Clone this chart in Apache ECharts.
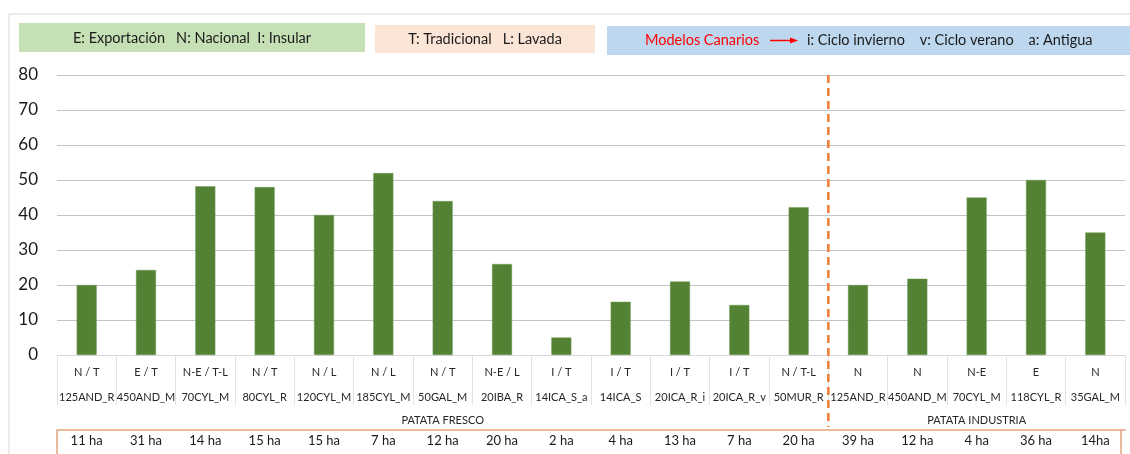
<!DOCTYPE html>
<html>
<head>
<meta charset="utf-8">
<script src="https://cdn.jsdelivr.net/npm/echarts@6/dist/echarts.min.js"></script>
<style>
html,body{margin:0;padding:0;background:#fff;}
#chart{width:1130px;height:454px;}
</style>
</head>
<body>
<div id="chart"></div>
<script>
// ---- data ----
var codes = ['N / T','E / T','N-E / T-L','N / T','N / L','N / L','N / T','N-E / L','I / T','I / T','I / T','I / T','N / T-L','N','N','N-E','E','N'];
var models = ['125AND_R','450AND_M','70CYL_M','80CYL_R','120CYL_M','185CYL_M','50GAL_M','20IBA_R','14ICA_S_a','14ICA_S','20ICA_R_i','20ICA_R_v','50MUR_R','125AND_R','450AND_M','70CYL_M','118CYL_R','35GAL_M'];
var hectares = ['11 ha','31 ha','14 ha','15 ha','15 ha','7 ha','12 ha','20 ha','2 ha','4 ha','13 ha','7 ha','20 ha','39 ha','12 ha','4 ha','36 ha','14ha'];
var values = [20, 24.3, 48.2, 48, 40, 52, 44, 26, 5, 15.2, 21, 14.3, 42.2, 20, 21.8, 45, 50, 35];
var groupNames = ['PATATA FRESCO','PATATA INDUSTRIA'];
var groupSizes = [13, 5];
var yTicks = {min: 0, max: 80, interval: 10};

// group label positions (middle category of each group)
var groupLabelAt = {};
(function(){
  var start = 0;
  for (var g = 0; g < groupNames.length; g++) {
    groupLabelAt[start + Math.floor(groupSizes[g] / 2)] = groupNames[g];
    start += groupSizes[g];
  }
})();
var catIdx = models.map(function(m, i){ return String(i); });

var FONT = 'Lato, "Open Sans", sans-serif';
var chart = echarts.init(document.getElementById('chart'));

var option = {
  animation: false,
  textStyle: {fontFamily: FONT},
  grid: {left: 57, right: 5, top: 75, bottom: 99, containLabel: false},
  xAxis: [
    {
      type: 'category', data: catIdx, position: 'bottom',
      axisLine: {show: true, lineStyle: {color: '#d9d9d9', width: 1}},
      axisTick: {show: true, interval: 0, length: 50, lineStyle: {color: '#e3e3e3'}},
      axisLabel: {
        interval: 0, margin: 5, fontSize: 11, lineHeight: 25, color: '#262626', fontFamily: FONT,
        formatter: function(v, i){ return codes[i] + '\n' + models[i]; }
      },
      splitLine: {show: false}
    },
    {
      type: 'category', data: catIdx, position: 'bottom', gridIndex: 0,
      axisLine: {show: false}, axisTick: {show: false},
      axisLabel: {
        interval: 0, margin: 60, fontSize: 11, color: '#262626', fontFamily: FONT,
        formatter: function(v, i){ return groupLabelAt[i] || ''; }
      }
    },
    {
      type: 'category', data: catIdx, position: 'bottom', offset: 75,
      axisLine: {show: true, lineStyle: {color: '#E2A47C', width: 1.5}},
      axisTick: {show: false},
      axisLabel: {
        interval: 0, margin: 4, fontSize: 13, color: '#1a1a1a', fontFamily: FONT,
        formatter: function(v, i){ return hectares[i]; }
      }
    }
  ],
  yAxis: {
    type: 'value', min: yTicks.min, max: yTicks.max, interval: yTicks.interval,
    axisLine: {show: false}, axisTick: {show: false},
    axisLabel: {fontSize: 17, color: '#1a1a1a', margin: 19, fontFamily: FONT},
    splitLine: {lineStyle: {color: '#c4c4c4', width: 1}}
  },
  series: [{
    type: 'bar', data: values, barWidth: 20, xAxisIndex: 0,
    itemStyle: {color: '#548235', borderColor: '#6f9a55', borderWidth: 0.5}
  }]
};
chart.setOption(option);

// ---- decorations computed from the chart's own scales ----
var p0 = chart.convertToPixel({xAxisIndex: 0}, '0');
var p1 = chart.convertToPixel({xAxisIndex: 0}, '1');
var band = p1 - p0;
var leftX = p0 - band / 2;
var lastX = chart.convertToPixel({xAxisIndex: 0}, String(models.length - 1));
var rightX = lastX + band / 2;
var splitIdx = groupSizes[0];
var divX = (chart.convertToPixel({xAxisIndex: 0}, String(splitIdx - 1)) + chart.convertToPixel({xAxisIndex: 0}, String(splitIdx))) / 2;
var yTop = chart.convertToPixel({yAxisIndex: 0}, yTicks.max);
var yZero = chart.convertToPixel({yAxisIndex: 0}, 0);
var boxTop = yZero + 75;

function legendBox(x, y, w, h, fill, children) {
  return {type: 'group', children: [{type: 'rect', shape: {x: x, y: y, width: w, height: h}, style: {fill: fill}}].concat(children)};
}
var txtStyle = function(t, x, y, align, color){
  return {type: 'text', style: {text: t, x: x, y: y, align: align, verticalAlign: 'middle', font: '14.5px ' + FONT, fill: color || '#1a1a1a'}};
};

chart.setOption({
  graphic: [
    {type: 'rect', silent: true, shape: {x: 9, y: 14, width: 1140, height: 460}, style: {fill: 'none', stroke: '#d9d9d9', lineWidth: 1}},
    legendBox(19, 23, 346, 29, '#C5E0B4', [txtStyle('E: Exportación   N: Nacional  I: Insular', 192, 38, 'center')]),
    legendBox(375, 25, 220, 28, '#FBE5D6', [txtStyle('T: Tradicional   L: Lavada', 485, 39, 'center')]),
    legendBox(607, 26, 530, 29, '#BDD7EE', [
      txtStyle('Modelos Canarios', 645, 40.5, 'left', '#FF0000'),
      {type: 'line', shape: {x1: 770, y1: 40.5, x2: 792, y2: 40.5}, style: {stroke: '#FF0000', lineWidth: 1.5}},
      {type: 'polygon', shape: {points: [[798, 40.5], [790, 37.5], [790, 43.5]]}, style: {fill: '#FF0000'}},
      txtStyle('i: Ciclo invierno    v: Ciclo verano    a: Antigua', 807, 40.5, 'left')
    ]),
    {type: 'line', shape: {x1: leftX, y1: boxTop, x2: leftX, y2: 460}, style: {stroke: '#E2A47C', lineWidth: 1.5}},
    {type: 'line', shape: {x1: rightX - 4, y1: boxTop, x2: rightX - 4, y2: 460}, style: {stroke: '#E2A47C', lineWidth: 1.5}},
    {type: 'line', z: 10, shape: {x1: divX, y1: yTop, x2: divX, y2: boxTop - 3}, style: {stroke: '#ED7D31', lineWidth: 2.5, lineDash: [8, 5]}}
  ]
});
</script>
</body>
</html>
